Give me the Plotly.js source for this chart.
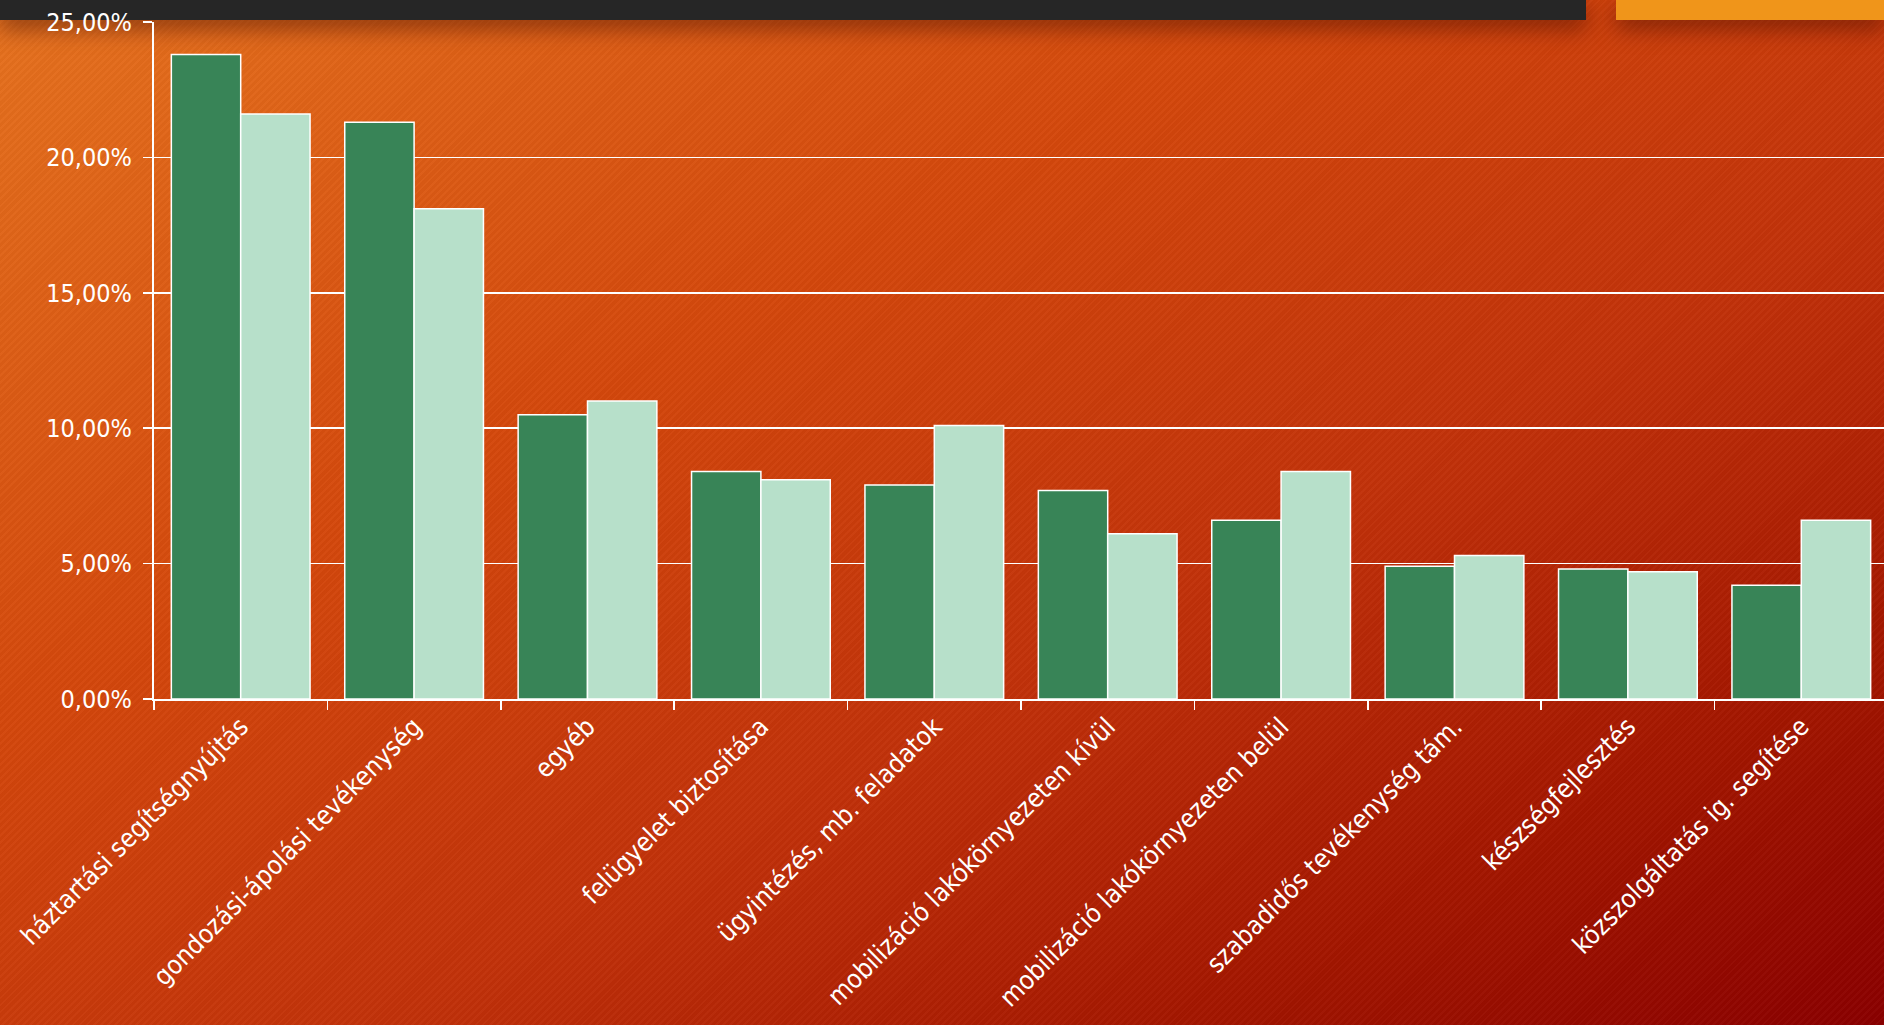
<!DOCTYPE html>
<html>
<head>
<meta charset="utf-8">
<script src="https://cdn.plot.ly/plotly-3.0.1.min.js"></script>
<style>
html, body { margin: 0; padding: 0; width: 1884px; height: 1025px; overflow: hidden; }
body {
  position: relative;
  background:
    repeating-linear-gradient(135deg, rgba(255,255,255,0.025) 0px, rgba(255,255,255,0.025) 2px, rgba(0,0,0,0.025) 2px, rgba(0,0,0,0.025) 5px),
    linear-gradient(to bottom right, #e6731f 0%, #d4480c 35%, #c2320a 60%, #a31600 82%, #8a0000 100%);
}
#darkbar { position: absolute; left: 0; top: 0; width: 1586px; height: 20px; background: #262626; box-shadow: 0 8px 22px rgba(60,10,0,0.55); }
#orangebar { position: absolute; left: 1616px; top: 0; width: 268px; height: 20px; background: #f0951a; box-shadow: 0 8px 22px rgba(60,10,0,0.55); }
#chart { position: absolute; left: 0; top: 0; width: 1888px; height: 1025px; }
</style>
</head>
<body>
<div id="darkbar"></div>
<div id="orangebar"></div>
<div id="chart"></div>
<script>
const categories = [
  "háztartási segítségnyújtás",
  "gondozási-ápolási tevékenység",
  "egyéb",
  "felügyelet biztosítása",
  "ügyintézés, mb. feladatok",
  "mobilizáció lakókörnyezeten kívül",
  "mobilizáció lakókörnyezeten belül",
  "szabadidős tevékenység tám.",
  "készségfejlesztés",
  "közszolgáltatás ig. segítése"
];
const series1 = [23.8, 21.3, 10.5, 8.4, 7.9, 7.7, 6.6, 4.9, 4.8, 4.2];
const series2 = [21.6, 18.1, 11.0, 8.1, 10.1, 6.1, 8.4, 5.3, 4.7, 6.6];
const yTicks = [0, 5, 10, 15, 20, 25];
const yTickText = yTicks.map(v => v.toFixed(2).replace('.', ',') + '%');

const fontFam = "'DejaVu Sans Condensed', 'DejaVu Sans', sans-serif";

const traces = [
  { type: 'bar', name: 'Sorozat 1', x: categories, y: series1,
    marker: { color: '#388457', line: { color: '#ffffff', width: 1.5 } }, hoverinfo: 'none' },
  { type: 'bar', name: 'Sorozat 2', x: categories, y: series2,
    marker: { color: '#b7e0ca', line: { color: '#ffffff', width: 1.5 } }, hoverinfo: 'none' }
];

const layout = {
  width: 1888, height: 1025,
  margin: { l: 154, r: 0, t: 22, b: 326 },
  paper_bgcolor: 'rgba(0,0,0,0)',
  plot_bgcolor: 'rgba(0,0,0,0)',
  showlegend: false,
  barmode: 'group',
  bargap: 0.2,
  bargroupgap: 0,
  font: { family: fontFam, color: '#ffffff', size: 26 },
  xaxis: {
    type: 'category',
    tickangle: -45,
    showline: true, linecolor: '#ffffff', linewidth: 2,
    ticks: 'outside', tickson: 'boundaries', ticklen: 9, tickwidth: 1.5, tickcolor: '#ffffff',
    showgrid: false,
    tickfont: { family: fontFam, size: 26, color: '#ffffff' }
  },
  yaxis: {
    range: [0, 25],
    tickmode: 'array',
    tickvals: yTicks,
    ticktext: yTickText,
    showline: true, linecolor: '#ffffff', linewidth: 2,
    ticks: 'outside', ticklen: 9, tickwidth: 1.5, tickcolor: '#ffffff',
    ticklabelstandoff: 6,
    showgrid: true, gridcolor: '#ffffff', gridwidth: 1.5,
    zeroline: false,
    tickfont: { family: fontFam, size: 25, color: '#ffffff' }
  }
};

Plotly.newPlot('chart', traces, layout, { displayModeBar: false, staticPlot: true });
</script>
</body>
</html>
